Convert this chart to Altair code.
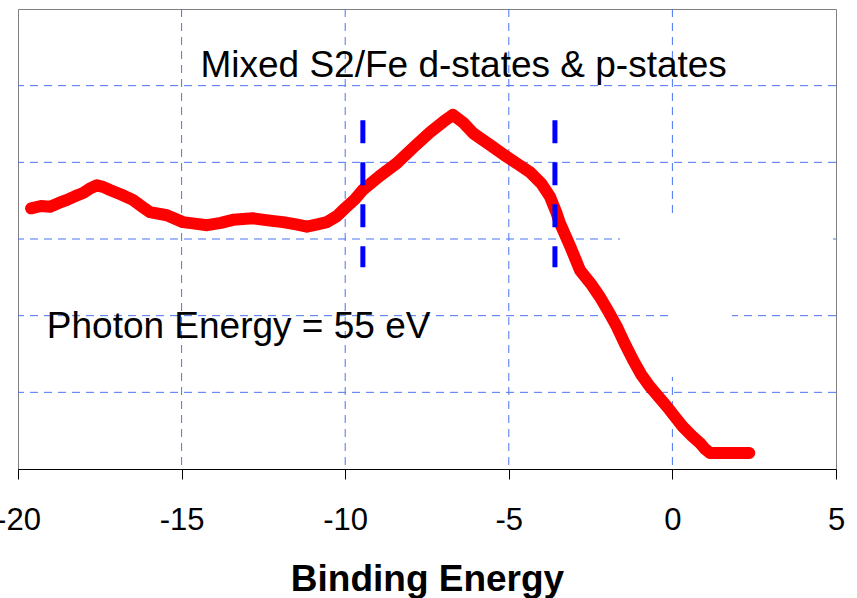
import altair as alt
import pandas as pd

# Photoemission spectrum (intensity vs binding energy)
energy = [-19.60, -19.30, -19.02, -18.75, -18.50, -18.25, -18.01, -17.80, -17.59,
          -17.40, -17.19, -16.85, -16.49, -16.20, -15.97, -15.45, -14.96, -14.60,
          -14.22, -13.80, -13.43, -12.82, -12.30, -11.90, -11.50, -11.17, -10.85,
          -10.56, -10.25, -10.01, -9.70, -9.46, -8.95, -8.42, -7.90, -7.41, -7.00,
          -6.71, -6.40, -6.09, -5.55, -5.05, -4.70, -4.35, -4.00, -3.74, -3.55,
          -3.44, -3.10, -2.82, -2.50, -2.21, -1.95, -1.69, -1.45, -1.20, -0.95,
          -0.68, -0.42, -0.16, 0.08, 0.32, 0.60, 0.84, 1.00, 1.15, 1.60, 2.00, 2.35]
intensity = [3.40, 3.43, 3.42, 3.47, 3.51, 3.56, 3.60, 3.66, 3.70,
             3.68, 3.64, 3.58, 3.51, 3.42, 3.35, 3.31, 3.22, 3.20,
             3.18, 3.21, 3.25, 3.27, 3.24, 3.22, 3.19, 3.16, 3.19,
             3.22, 3.30, 3.40, 3.52, 3.64, 3.82, 3.99, 4.20, 4.39, 4.53,
             4.62, 4.52, 4.38, 4.22, 4.07, 3.97, 3.87, 3.72, 3.55, 3.35,
             3.21, 2.88, 2.59, 2.42, 2.24, 2.05, 1.85, 1.63, 1.42, 1.23,
             1.07, 0.94, 0.81, 0.68, 0.55, 0.43, 0.34, 0.26, 0.21, 0.21, 0.21, 0.21]

# Region markers (dashed blue bars)
marker_x = [-9.46, -3.59]
marker_top = [4.55, 4.55]
marker_bottom = [2.63, 2.63]

# Grid positions
x_grid = [-15, -10, -5, 0]
y_grid = [1, 2, 3, 4, 5]
x_ticks = [-20, -15, -10, -5, 0, 5]

# Blank panels lying over part of the grid
blank_x1 = [-1.60, -0.13]
blank_x2 = [4.91, 1.82]
blank_y1 = [3.30, 2.20]
blank_y2 = [2.20, 1.20]

# Annotations
notes = ["Mixed S2/Fe d-states & p-states", "Photon Energy = 55 eV"]
note_x = [-6.38, -19.12]
note_y = [5.11, 1.71]
note_align = ["center", "left"]

FONT = "Liberation Sans, Arial, sans-serif"
GRID_COLOR = "#4a74f5"

xs = alt.Scale(domain=[-20, 5], nice=False, zero=False)
ys = alt.Scale(domain=[0, 6], nice=False, zero=False)

x_axis = alt.Axis(values=x_ticks, grid=False, labelFont=FONT, labelFontSize=31,
                  labelColor="black", tickColor="black", tickSize=10, domainColor="black",
                  labelPadding=26, labelFlush=False, labelOverlap=False,
                  labelExpr="'' + datum.value",
                  title="Binding Energy", titleFont=FONT, titleFontSize=37,
                  titleFontWeight="bold", titleColor="black", titleBaseline="alphabetic",
                  titleY=121)

vgrid = alt.Chart(pd.DataFrame({"x": x_grid})).mark_rule(
    color=GRID_COLOR, strokeWidth=1, strokeDash=[8, 6]
).encode(x=alt.X("x:Q", scale=xs, axis=x_axis))

hgrid = alt.Chart(pd.DataFrame({"y": y_grid})).mark_rule(
    color=GRID_COLOR, strokeWidth=1, strokeDash=[8, 6]
).encode(y=alt.Y("y:Q", scale=ys, axis=None))

blank = alt.Chart(pd.DataFrame({"x1": blank_x1, "x2": blank_x2,
                                "y1": blank_y1, "y2": blank_y2})).mark_rect(
    color="white"
).encode(x=alt.X("x1:Q", scale=xs), x2="x2:Q",
         y=alt.Y("y1:Q", scale=ys), y2="y2:Q")

spectrum = alt.Chart(pd.DataFrame({"e": energy, "i": intensity})).mark_line(
    color="#ff0000", strokeWidth=12, strokeJoin="round", strokeCap="round"
).encode(x=alt.X("e:Q", scale=xs), y=alt.Y("i:Q", scale=ys), order="e:Q")

markers = alt.Chart(pd.DataFrame({"x": marker_x, "top": marker_top,
                                  "bottom": marker_bottom})).mark_rule(
    color="#0000ff", strokeWidth=5, strokeDash=[23, 19]
).encode(x=alt.X("x:Q", scale=xs), y=alt.Y("top:Q", scale=ys), y2="bottom:Q")


def text_layer(align):
    return alt.Chart(pd.DataFrame({"t": notes, "x": note_x, "y": note_y,
                                   "a": note_align})).transform_filter(
        alt.datum.a == align
    ).mark_text(font=FONT, fontSize=37, color="black", baseline="alphabetic",
                align=align).encode(x=alt.X("x:Q", scale=xs),
                                    y=alt.Y("y:Q", scale=ys), text="t:N")


chart = alt.layer(
    vgrid, hgrid, blank, spectrum, markers, text_layer("center"), text_layer("left")
).properties(
    width=818, height=460,
    autosize=alt.AutoSizeParams(type="none"),
    padding={"left": 18, "top": 9, "right": 21, "bottom": 129},
    background="white",
).configure_view(stroke="#808080", strokeWidth=1)

chart.save("out.html", embed_options={"renderer": "svg", "actions": False})
